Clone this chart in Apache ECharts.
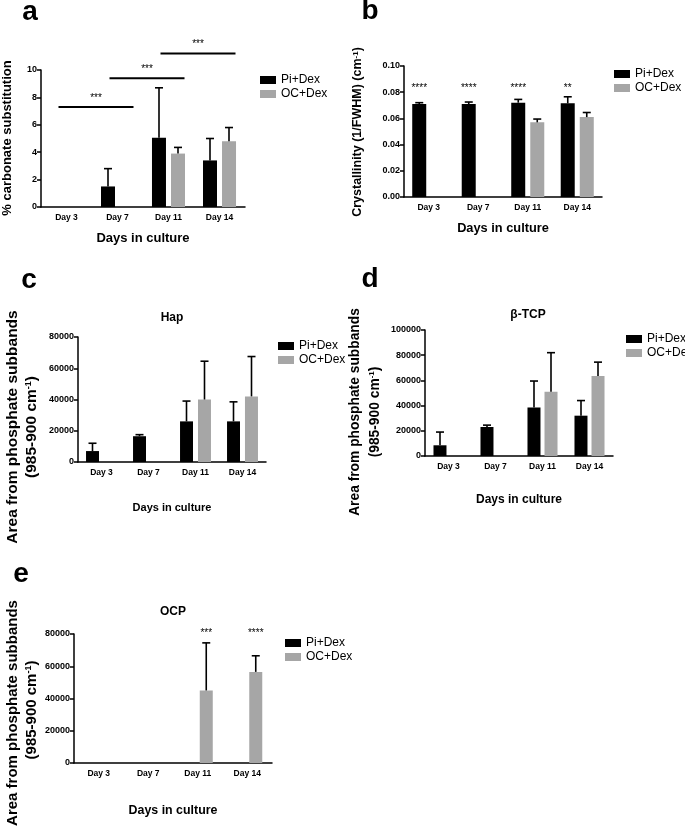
<!DOCTYPE html>
<html>
<head>
<meta charset="utf-8">
<title></title>
<script src="https://cdn.jsdelivr.net/npm/echarts@6/dist/echarts.min.js"></script>
<style>
  html, body { margin: 0; padding: 0; background: #fff; }
  #main { width: 685px; height: 839px; }
</style>
</head>
<body>
<div id="main"></div>
<script>
var days = ['Day 3', 'Day 7', 'Day 11', 'Day 14'];
var legendNames = ['Pi+Dex', 'OC+Dex'];

// a - % carbonate substitution (mean, mean+SD)
var piA = [0, 1.5, 5.05, 3.4];
var piTopA = [0, 2.8, 8.7, 5.0];
var ocA = [0, 0, 3.9, 4.8];
var ocTopA = [0, 0, 4.35, 5.8];
var yTicksA = [0, 10, 2];
// brackets: from day, to day, height, label
var sigA = [[0, 1, 7.3, '***'], [1, 2, 9.4, '***'], [2, 3, 11.2, '***']];

// b - crystallinity
var piB = [0.071, 0.071, 0.072, 0.0715];
var piTopB = [0.072, 0.0725, 0.0745, 0.0765];
var ocB = [0, 0, 0.057, 0.061];
var ocTopB = [0, 0, 0.0595, 0.0645];
var yTicksB = [0, 0.1, 0.02];
var starsB = ['****', '****', '****', '**'];
var starLevelB = 0.0795;

// c - Hap
var piC = [7000, 16500, 26000, 26000];
var piTopC = [12000, 17500, 39000, 38500];
var ocC = [0, 0, 40000, 42000];
var ocTopC = [0, 0, 64500, 67500];
var yTicksC = [0, 80000, 20000];

// d - beta-TCP
var piD = [8500, 23000, 38500, 32000];
var piTopD = [19000, 24500, 59500, 44000];
var ocD = [0, 0, 51000, 63500];
var ocTopD = [0, 0, 82000, 74500];
var yTicksD = [0, 100000, 20000];

// e - OCP
var piE = [0, 0, 0, 0];
var piTopE = [0, 0, 0, 0];
var ocE = [0, 0, 45000, 56500];
var ocTopE = [0, 0, 74500, 66500];
var yTicksE = [0, 80000, 20000];
var starsE = ['', '', '***', '****'];
var starLevelE = 77500;

var FONT = '"Liberation Sans", Arial, sans-serif';
var BLACK = '#000';
var GREY = '#a6a6a6';

// layout of each panel
var panels = [
    { grid: { left: 41, top: 70, width: 204, height: 137 }, barW: 14, gap: 5, nameGap: 25, nameSize: 13 },
    { grid: { left: 404, top: 66, width: 198, height: 131 }, barW: 14, gap: 5, nameGap: 25, nameSize: 12.8 },
    { grid: { left: 78, top: 337, width: 188, height: 125 }, barW: 13, gap: 5, nameGap: 40, nameSize: 11 },
    { grid: { left: 425, top: 330, width: 188, height: 126 }, barW: 13, gap: 4, nameGap: 38, nameSize: 12 },
    { grid: { left: 74, top: 634, width: 198, height: 129 }, barW: 13, gap: 4, nameGap: 42, nameSize: 12.4 }
];
var yTicks = [yTicksA, yTicksB, yTicksC, yTicksD, yTicksE];
var piAll = [piA, piB, piC, piD, piE];
var ocAll = [ocA, ocB, ocC, ocD, ocE];
var piTopAll = [piTopA, piTopB, piTopC, piTopD, piTopE];
var ocTopAll = [ocTopA, ocTopB, ocTopC, ocTopD, ocTopE];
var legendPos = [[260, 74], [614, 68], [278, 340], [626, 333], [285, 637]];

function xAx(g) {
    var p = panels[g];
    return {
        type: 'category', gridIndex: g, data: days,
        name: 'Days in culture', nameLocation: 'middle', nameGap: p.nameGap,
        nameTextStyle: { fontFamily: FONT, fontWeight: 'bold', fontSize: p.nameSize, color: BLACK },
        axisLine: { lineStyle: { color: BLACK, width: 1.5 } },
        axisTick: { alignWithLabel: true, length: 4, lineStyle: { color: BLACK, width: 1.5 } },
        axisLabel: { fontFamily: FONT, fontWeight: 'bold', fontSize: 8.5, color: BLACK, margin: 6 },
        splitLine: { show: false }
    };
}

function yAx(g) {
    var t = yTicks[g];
    return {
        type: 'value', gridIndex: g, min: t[0], max: t[1], interval: t[2],
        axisLine: { show: true, lineStyle: { color: BLACK, width: 1.5 } },
        axisTick: { show: true, length: 4, lineStyle: { color: BLACK, width: 1.5 } },
        axisLabel: {
            fontFamily: FONT, fontWeight: 'bold', fontSize: 9, color: BLACK, margin: 4,
            formatter: g === 1 ? function (v) { return v.toFixed(2); } : function (v) { return String(v); }
        },
        splitLine: { show: false }
    };
}

function barSeries(g, name, data, color) {
    var p = panels[g];
    return {
        type: 'bar', name: name, xAxisIndex: g, yAxisIndex: g, data: data,
        barWidth: p.barW, barGap: (p.gap / p.barW * 100).toFixed(0) + '%',
        itemStyle: { color: color }, silent: true
    };
}

// error bar: only the upper half with a cap
function errSeries(g, vals, tops, side) {
    var p = panels[g];
    return {
        type: 'custom', name: 'err' + g + side, xAxisIndex: g, yAxisIndex: g, z: 5, silent: true,
        data: vals.map(function (v, i) { return [i, v, tops[i]]; }),
        renderItem: function (params, api) {
            if (api.value(2) <= api.value(1)) return;
            var lo = api.coord([api.value(0), api.value(1)]);
            var hi = api.coord([api.value(0), api.value(2)]);
            var x = lo[0] + side * (p.barW + p.gap) / 2;
            var st = { stroke: BLACK, lineWidth: 1.6 };
            return {
                type: 'group', children: [
                    { type: 'line', shape: { x1: x, y1: lo[1], x2: x, y2: hi[1] }, style: st },
                    { type: 'line', shape: { x1: x - 4, y1: hi[1], x2: x + 4, y2: hi[1] }, style: st }
                ]
            };
        }
    };
}

function starSeries(g, stars, level, side) {
    var p = panels[g];
    return {
        type: 'custom', name: 'stars' + g, xAxisIndex: g, yAxisIndex: g, z: 6, silent: true,
        data: stars.map(function (s, i) { return [i, level]; }),
        renderItem: function (params, api) {
            var s = stars[params.dataIndex];
            if (!s) return;
            var c = api.coord([api.value(0), api.value(1)]);
            return {
                type: 'text', x: c[0] + side * (p.barW + p.gap) / 2, y: c[1],
                style: { text: s, fontFamily: FONT, fontSize: 10, fill: BLACK,
                         align: 'center', verticalAlign: 'bottom', textAlign: 'center', textVerticalAlign: 'bottom' }
            };
        }
    };
}

var bracketSeries = {
    type: 'custom', name: 'sigA', xAxisIndex: 0, yAxisIndex: 0, z: 6, silent: true,
    data: sigA.map(function (s) { return [s[0], s[1], s[2]]; }),
    renderItem: function (params, api) {
        var a = api.coord([api.value(0), api.value(2)]);
        var b = api.coord([api.value(1), api.value(2)]);
        var x1 = a[0] - 8, x2 = b[0] + 16;
        return {
            type: 'group', children: [
                { type: 'line', shape: { x1: x1, y1: a[1], x2: x2, y2: a[1] }, style: { stroke: BLACK, lineWidth: 2 } },
                { type: 'text', x: (x1 + x2) / 2, y: a[1] - 4,
                  style: { text: sigA[params.dataIndex][3], fontFamily: FONT, fontSize: 10, fill: BLACK,
                           align: 'center', verticalAlign: 'bottom', textAlign: 'center', textVerticalAlign: 'bottom' } }
            ]
        };
    }
};

var series = [];
for (var g = 0; g < 5; g++) {
    series.push(barSeries(g, 'Pi+Dex', piAll[g], BLACK));
    series.push(barSeries(g, 'OC+Dex', ocAll[g], GREY));
    series.push(errSeries(g, piAll[g], piTopAll[g], -1));
    series.push(errSeries(g, ocAll[g], ocTopAll[g], 1));
}
series.push(bracketSeries);
series.push(starSeries(1, starsB, starLevelB, -1));
series.push(starSeries(4, starsE, starLevelE, 1));

function txt(x, y, text, size, rot, extra) {
    var st = { text: text, fontFamily: FONT, fontWeight: 'bold', fontSize: size, fill: BLACK,
               align: 'center', verticalAlign: 'middle', textAlign: 'center', textVerticalAlign: 'middle' };
    if (extra) st.rich = extra;
    return { type: 'text', x: x, y: y, rotation: rot ? Math.PI / 2 : 0, style: st, silent: true };
}
function supRich(size) {
    return {
        n: { fontFamily: FONT, fontWeight: 'bold', fontSize: size, fill: BLACK, color: BLACK },
        s: { fontFamily: FONT, fontWeight: 'bold', fontSize: Math.round(size * 0.6), fill: BLACK, color: BLACK, verticalAlign: 'top' }
    };
}

var graphics = [
    txt(30, 12, 'a', 28), txt(370, 11, 'b', 28), txt(29, 280, 'c', 28), txt(370, 279, 'd', 28), txt(21, 574, 'e', 28),
    txt(172, 318, 'Hap', 12), txt(528, 315, '\u03b2-TCP', 12), txt(173, 612, 'OCP', 12),
    txt(7, 138, '% carbonate substitution', 13, true),
    txt(358, 132, '{n|Crystallinity (1/FWHM) (cm}{s|-1}{n|)}', 12.5, true, supRich(12.5)),
    txt(13, 427, 'Area from phosphate subbands', 15.5, true),
    txt(32, 427, '{n|(985-900 cm}{s|-1}{n|)}', 15.5, true, supRich(15.5)),
    txt(355, 412, 'Area from phosphate subbands', 13.8, true),
    txt(375, 412, '{n|(985-900 cm}{s|-1}{n|)}', 13.8, true, supRich(13.8)),
    txt(13, 713, 'Area from phosphate subbands', 15, true),
    txt(32, 710, '{n|(985-900 cm}{s|-1}{n|)}', 15, true, supRich(15))
];

var dom = document.getElementById('main');
var myChart = echarts.init(dom, null, { renderer: 'canvas' });
var option = {
    animation: false,
    backgroundColor: '#fff',
    textStyle: { fontFamily: FONT },
    grid: panels.map(function (p) { return p.grid; }),
    xAxis: [0, 1, 2, 3, 4].map(xAx),
    yAxis: [0, 1, 2, 3, 4].map(yAx),
    legend: legendPos.map(function (lp) {
        return {
            left: lp[0], top: lp[1], orient: 'vertical', padding: 0,
            itemWidth: 16, itemHeight: 8, itemGap: 2, icon: 'rect', selectedMode: false,
            data: legendNames,
            textStyle: { fontFamily: FONT, fontSize: 12, color: BLACK }
        };
    }),
    graphic: graphics,
    series: series
};
myChart.setOption(option);
</script>
</body>
</html>
